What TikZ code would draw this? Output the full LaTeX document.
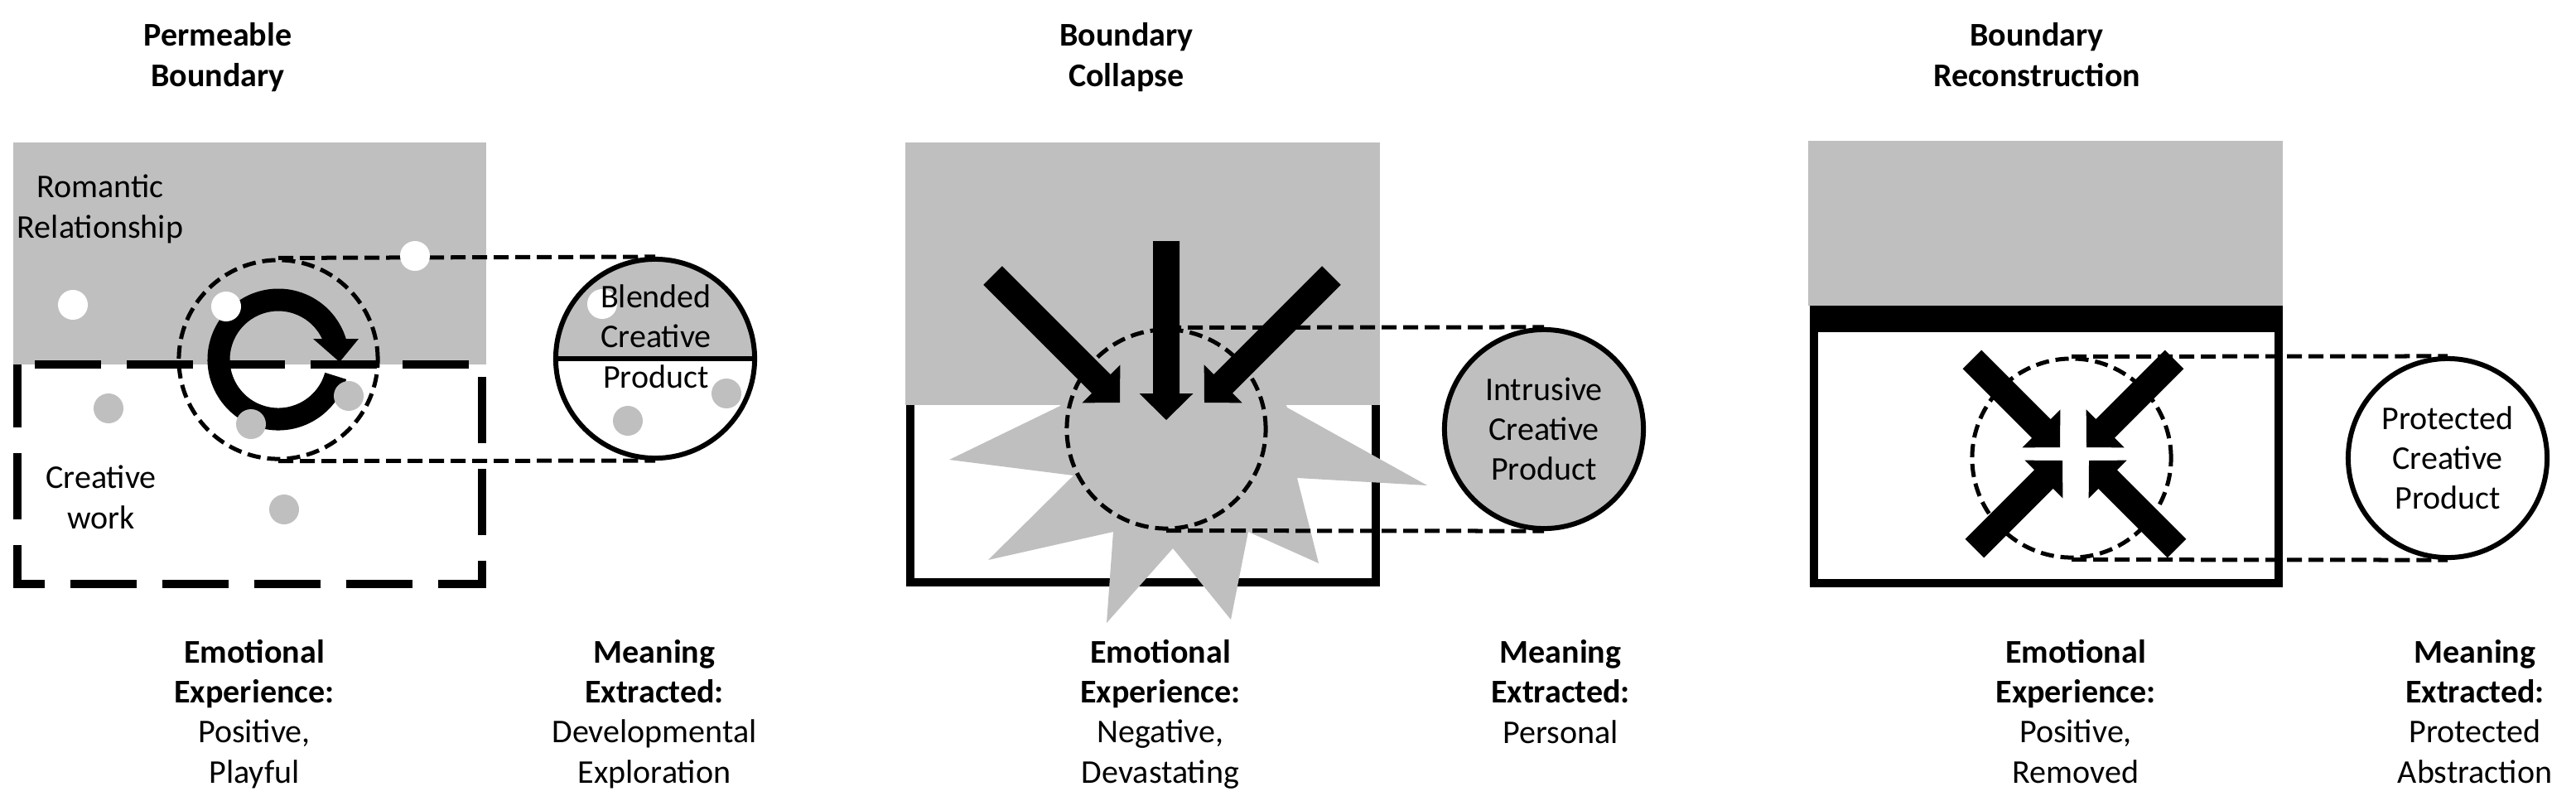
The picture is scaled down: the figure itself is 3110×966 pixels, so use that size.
\documentclass[tikz,border=0pt]{standalone}
\usepackage{fontspec}
\setmainfont{Carlito}

\definecolor{boxgray}{RGB}{191,191,191}
\newcommand{\figfont}{\fontsize{11.38}{13.66}\selectfont}

\tikzstyle{txt} = [align=center, inner sep=0pt, font=\figfont]
\tikzstyle{heading} = [txt, font=\figfont\bfseries]
\tikzstyle{lens} = [circle, draw, line width=0.05cm, dash pattern=on 0.16cm off 0.08cm, minimum size=2.4cm, inner sep=0pt]
\tikzstyle{product} = [circle, draw, line width=0.06cm, minimum size=2.4cm, inner sep=0pt, align=center, font=\figfont]
\tikzstyle{link} = [line width=0.05cm, dash pattern=on 0.18cm off 0.08cm]
\tikzstyle{frame} = [line width=0.1cm]

% block arrow with its tip at (#1,#2), turned by #3, #4 long
\newcommand{\blockarrow}[4]{%
  \fill[shift={(#1,#2)}, rotate=#3] (0,0) -- (-32,32.5) -- (-32,16) -- (-#4,16)
    -- (-#4,-16) -- (-32,-16) -- (-32,-32.5) -- cycle;}

\begin{document}
\begin{tikzpicture}[x=0.01cm, y=-0.01cm]
        \useasboundingbox (0,0) rectangle (3110,966);

        % Permeable boundary
        \fill[boxgray] (16,172) rectangle (587,440);
        \draw[frame, dash pattern=on 0.8cm off 0.31cm, dash phase=0.9cm] (21,440) -- (582,440) -- (582,705) -- (21,705) -- cycle;
        \node (lens1) at (336,434) [lens] {};
        \draw[line width=0.27cm] ([shift={(16:72)}]lens1.center) arc[start angle=16, end angle=345, radius=72];
        \fill (378,409) -- (433,409) -- (410,437) -- cycle;
        \node (prod1) at (791,433) [product, path picture={\fill[boxgray] (path picture bounding box.north west) rectangle (path picture bounding box.east);}] {};
        \draw[line width=0.06cm] (prod1.west) -- (prod1.east);
        \draw[link] (lens1.north) -- (prod1.north);
        \draw[link] (lens1.south) -- (prod1.south);
        \foreach \p in {(88,368),(273,370),(501,309),(727,367)}
            \fill[white] \p circle[radius=18];
        \foreach \p in {(131,493),(303,512),(421,478),(343,615),(758,508),(877,475)}
            \fill[boxgray] \p circle[radius=18];
        \node (rom) at (121,287) [txt, anchor=base] {Romantic\\Relationship};
        \node (work) at (122,638) [txt, anchor=base] {Creative\\work};
        \node (blend) at (792,468) [txt, anchor=base] {Blended\\Creative\\Product};

        % Boundary collapse
        \draw[frame] (1099,442) rectangle (1661,703);
        \fill[boxgray] (1093,172) rectangle (1666,489);
        \fill[boxgray] (1290,460) -- (1280,490) -- (1146,555) -- (1296,574) -- (1193,676) -- (1344,642)
            -- (1336,752) -- (1416,662) -- (1486,748) -- (1507,642) -- (1592,680) -- (1566,577)
            -- (1723,586) -- (1554,492) -- (1540,460) -- cycle;
        \node (lens2) at (1408,518) [lens] {};
        \blockarrow{1408}{507}{-90}{216}
        \blockarrow{1352}{486}{-45}{217}
        \blockarrow{1454}{486}{-135}{217}
        \node (prod2) at (1864,518) [product, fill=boxgray] {Intrusive\\Creative\\Product};
        \draw[link] (lens2.north) -- (prod2.north);
        \draw[link] (lens2.south) -- (prod2.south);

        % Boundary reconstruction
        \fill[boxgray] (2183,170) rectangle (2756,369);
        \draw[frame] (2190,374) rectangle (2751,704);
        \fill (2185,369) rectangle (2756,401);
        \node (lens3) at (2501,553) [lens] {};
        \blockarrow{2487}{540}{-45}{150}
        \blockarrow{2519}{540}{-135}{150}
        \blockarrow{2490}{556}{45}{150}
        \blockarrow{2522}{556}{135}{150}
        \node (prod3) at (2955,553) [product] {Protected\\Creative\\Product};
        \draw[link] (lens3.north) -- (prod3.north);
        \draw[link] (lens3.south) -- (prod3.south);

        % titles and captions
        \node (title1) at (263,104) [heading, anchor=base] {Permeable\\Boundary};
        \node (title2) at (1360,104) [heading, anchor=base] {Boundary\\Collapse};
        \node (title3) at (2459,104) [heading, anchor=base] {Boundary\\Reconstruction};
        \node (emo1) at (307,945) [txt, anchor=base] {\textbf{Emotional}\\\textbf{Experience:}\\Positive,\\Playful};
        \node (mean1) at (790,945) [txt, anchor=base] {\textbf{Meaning}\\\textbf{Extracted:}\\Developmental\\Exploration};
        \node (emo2) at (1401,945) [txt, anchor=base] {\textbf{Emotional}\\\textbf{Experience:}\\Negative,\\Devastating};
        \node (mean2) at (1884,897) [txt, anchor=base] {\textbf{Meaning}\\\textbf{Extracted:}\\Personal};
        \node (emo3) at (2506,945) [txt, anchor=base] {\textbf{Emotional}\\\textbf{Experience:}\\Positive,\\Removed};
        \node (mean3) at (2988,945) [txt, anchor=base] {\textbf{Meaning}\\\textbf{Extracted:}\\Protected\\Abstraction};
\end{tikzpicture}
\end{document}
